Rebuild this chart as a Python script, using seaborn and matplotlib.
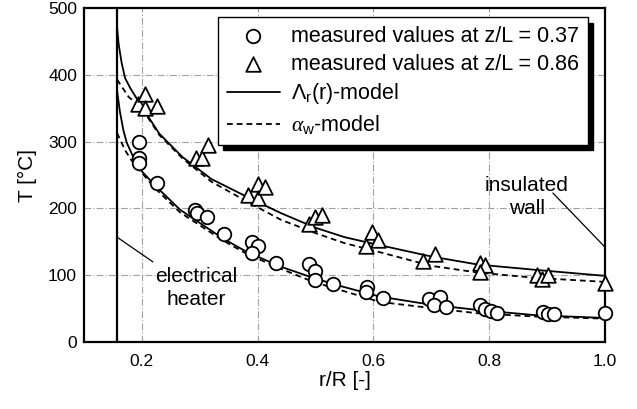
import numpy as np
import pandas as pd
import matplotlib
matplotlib.use("Agg")
import matplotlib.pyplot as plt
import seaborn as sns

# ---- data ----
circ_r = [0.195, 0.195, 0.195, 0.226, 0.292, 0.295, 0.313, 0.341, 0.390, 0.401, 0.390, 0.431,
          0.489, 0.499, 0.499, 0.530, 0.589, 0.587, 0.617, 0.696, 0.715, 0.705, 0.725,
          0.784, 0.793, 0.803, 0.813, 0.893, 0.902, 0.912, 1.0]
circ_T = [300, 275, 268, 238, 197, 193, 187, 161, 150, 143, 133, 119,
          117, 107, 93, 87, 83, 75, 66, 64, 67, 55, 52,
          55, 50, 47, 43, 45, 42, 42, 43]

tri_r = [0.193, 0.205, 0.205, 0.226, 0.294, 0.303, 0.315, 0.384, 0.400, 0.401, 0.413,
         0.489, 0.499, 0.511, 0.587, 0.597, 0.608, 0.686, 0.706,
         0.784, 0.793, 0.784, 0.882, 0.891, 0.902, 1.0]
tri_T = [356, 371, 350, 353, 275, 275, 295, 220, 237, 215, 232,
         177, 187, 190, 143, 165, 153, 122, 132,
         118, 115, 105, 100, 94, 100, 88]

lam_r_hi = [0.157, 0.160, 0.165, 0.171, 0.180, 0.200, 0.230, 0.270, 0.320, 0.380, 0.440,
            0.500, 0.550, 0.600, 0.700, 0.780, 0.880, 1.0]
lam_T_hi = [472, 445, 418, 395, 380, 352, 312, 277, 244, 218, 193,
            171, 157, 147, 128, 116, 108, 99]

alp_r_hi = [0.157, 0.177, 0.200, 0.230, 0.270, 0.320, 0.380, 0.440, 0.500, 0.550,
            0.600, 0.700, 0.780, 0.880, 1.0]
alp_T_hi = [393, 367, 350, 310, 275, 240, 211, 183, 163, 148,
            137, 114, 104, 96, 90]

lam_r_lo = [0.157, 0.162, 0.168, 0.174, 0.193, 0.223, 0.266, 0.340, 0.381, 0.439, 0.496,
            0.542, 0.611, 0.698, 0.780, 0.882, 1.0]
lam_T_lo = [377, 345, 317, 298, 262, 234, 198, 155, 135, 113, 96,
            84, 68, 56, 48, 40, 36]

alp_r_lo = [0.157, 0.171, 0.182, 0.193, 0.223, 0.266, 0.340, 0.381, 0.439, 0.496,
            0.542, 0.611, 0.698, 0.780, 0.882, 1.0]
alp_T_lo = [313, 287, 272, 260, 230, 194, 152, 132, 110, 90,
            78, 60, 51, 43, 38, 35]

heater_r = 0.157

labels = ["measured values at z/L = 0.37", "measured values at z/L = 0.86",
          r"$\Lambda_\mathrm{r}$(r)-model", r"$\alpha_\mathrm{w}$-model"]

# ---- style ----
sns.set_theme(style="white")
plt.rcParams["font.family"] = ["Liberation Sans", "DejaVu Sans"]
plt.rcParams["text.color"] = "black"
plt.rcParams["axes.labelcolor"] = "black"
plt.rcParams["xtick.color"] = "black"
plt.rcParams["ytick.color"] = "black"
plt.rcParams["mathtext.fontset"] = "custom"
plt.rcParams["mathtext.rm"] = "Liberation Sans"
plt.rcParams["mathtext.it"] = "Liberation Serif:italic"

fig = plt.figure(figsize=(6.37, 4.09), dpi=100)
ax = fig.add_axes([84 / 637, 1 - 342 / 409, (605 - 84) / 637, (342 - 8) / 409])

ax.set_xlim(0.1, 1.0)
ax.set_ylim(0, 500)

grid_kw = dict(color="#a0a0a0", lw=0.8, ls=(0, (6, 2, 1, 2)), zorder=0)
for gx in [0.2, 0.4, 0.6, 0.8]:
    ax.axvline(gx, **grid_kw)
for gy in [100, 200, 300, 400]:
    ax.axhline(gy, **grid_kw)

# model lines
line_kw = dict(color="black", lw=1.3, estimator=None, sort=False, legend=False)
n0 = len(ax.get_lines())
sns.lineplot(x=lam_r_hi, y=lam_T_hi, ax=ax, **line_kw)
sns.lineplot(x=lam_r_lo, y=lam_T_lo, ax=ax, **line_kw)
sns.lineplot(x=alp_r_hi, y=alp_T_hi, ax=ax, **line_kw)
sns.lineplot(x=alp_r_lo, y=alp_T_lo, ax=ax, **line_kw)
model_lines = ax.get_lines()[n0:]
for ln in model_lines[2:]:
    ln.set_linestyle((0, (3.2, 2.2)))

# heater line
ax.axvline(heater_r, color="black", lw=1.6, zorder=3)

# measured points
sns.scatterplot(x=circ_r, y=circ_T, ax=ax, marker="o", s=95, facecolor="white",
                edgecolor="black", linewidth=1.3, zorder=5)
sns.scatterplot(x=tri_r, y=tri_T, ax=ax, marker="^", s=110, facecolor="white",
                edgecolor="black", linewidth=1.3, zorder=5)
for c in ax.collections:
    c.set_clip_on(False)

# annotations
ax.text(0.294, 81, "electrical\nheater", ha="center", va="center", fontsize=15,
        linespacing=1.25)
ax.plot([0.157, 0.219], [157, 120], color="black", lw=0.9)
ax.text(0.865, 217, "insulated\nwall", ha="center", va="center", fontsize=15,
        linespacing=1.25, zorder=6)
ax.plot([0.910, 1.0], [223, 142], color="black", lw=0.9)

# axes styling
for sp in ax.spines.values():
    sp.set_linewidth(1.6)
    sp.set_color("black")
ax.set_xticks([0.2, 0.4, 0.6, 0.8, 1.0])
ax.set_xticklabels(["0.2", "0.4", "0.6", "0.8", "1.0"])
ax.set_xticks([0.1, 0.3, 0.5, 0.7, 0.9], minor=True)
ax.set_yticks([0, 100, 200, 300, 400, 500])
ax.set_yticks([50, 150, 250, 350, 450], minor=True)
ax.tick_params(which="both", direction="in", length=5, width=1.2, color="black",
               labelsize=12.5, labelcolor="black")
ax.tick_params(axis="x", pad=9)
ax.tick_params(axis="y", pad=5)
ax.set_xlabel("r/R [-]", fontsize=15, labelpad=1, color="black")
ax.set_ylabel("T [°C]", fontsize=15, labelpad=8, color="black")

# legend
handles = [ax.collections[-2], ax.collections[-1], model_lines[0], model_lines[2]]
leg = ax.legend(handles, labels, loc="upper left", bbox_to_anchor=(0.257, 0.973),
                borderaxespad=0, fontsize=15.5, frameon=True, fancybox=False,
                shadow={"color": "black", "alpha": 1, "ox": 4, "oy": -4},
                handlelength=2.5, handletextpad=0.5, borderpad=0.4,
                labelspacing=0.32, scatterpoints=1)
leg.get_frame().set_edgecolor("black")
leg.get_frame().set_linewidth(1.0)
leg.set_zorder(10)

fig.savefig("out.png", dpi=100)
